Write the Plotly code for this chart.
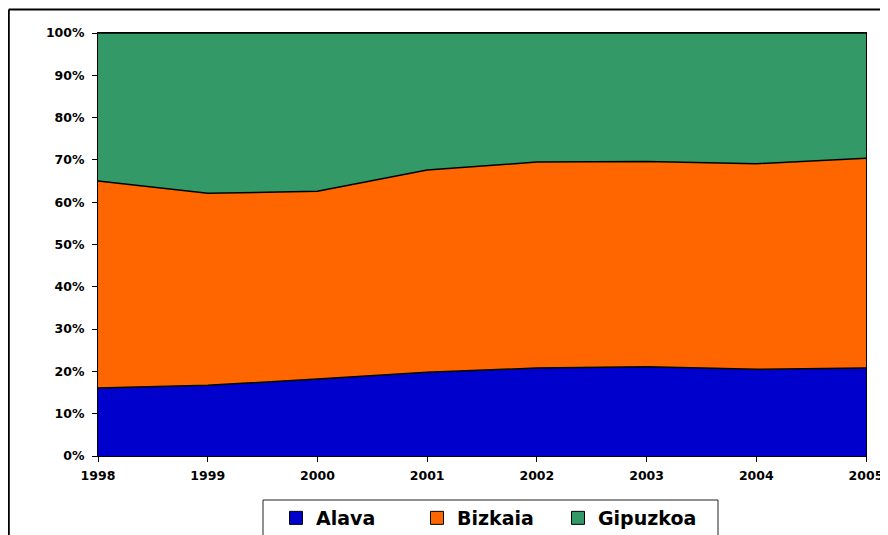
import plotly.graph_objects as go

years = [1998, 1999, 2000, 2001, 2002, 2003, 2004, 2005]
alava = [16.1, 16.7, 18.2, 19.8, 20.8, 21.1, 20.5, 20.8]
bizkaia = [48.9, 45.4, 44.4, 47.8, 48.7, 48.6, 48.6, 49.6]
gipuzkoa = [35.0, 37.9, 37.4, 32.4, 30.5, 30.4, 30.9, 29.6]
series_names = ["Alava", "Bizkaia", "Gipuzkoa"]
colors = ["#0000CC", "#FF6600", "#339966"]

fig = go.Figure()
for name, vals, col in zip(series_names, [alava, bizkaia, gipuzkoa], colors):
    fig.add_trace(go.Scatter(
        x=years, y=vals, name=name, mode="lines", stackgroup="one",
        groupnorm="percent", line=dict(color="black", width=1.5),
        fillcolor=col, showlegend=False, hoverinfo="x+y+name"))
# legend entries
for name, col in zip(series_names, colors):
    fig.add_trace(go.Scatter(
        x=[None], y=[None], name=name, mode="markers",
        marker=dict(symbol="square", size=13, color=col,
                    line=dict(color="black", width=1))))

# figure is placed by the page with an 8px body margin
W, H = 880, 527
L, T = 90, 25
R, B = 22, 79
pw, ph = W - L - R, H - T - B

def px(xf):
    return (xf - L) / pw

def py(yf):
    return 1 - (yf - T) / ph

# outer chart border (partially visible)
fig.add_shape(type="line", xref="paper", yref="paper", x0=px(0.8), x1=px(W + 20),
              y0=py(1.5), y1=py(1.5), line=dict(color="black", width=2))
fig.add_shape(type="line", xref="paper", yref="paper", x0=px(0.8), x1=px(0.8),
              y0=py(1.5), y1=py(H + 20), line=dict(color="black", width=2))
# legend frame
fig.add_shape(type="rect", xref="paper", yref="paper",
              x0=px(255), x1=px(710), y0=py(492), y1=py(H + 20),
              line=dict(color="#222222", width=1), fillcolor="rgba(0,0,0,0)")

tickfont = dict(family="DejaVu Sans", size=12.5, color="black", weight="bold")
fig.update_layout(
    width=W, height=H,
    margin=dict(l=L, r=R, t=T, b=B, autoexpand=False),
    paper_bgcolor="white", plot_bgcolor="white",
    xaxis=dict(range=[1998, 2005], tickmode="array", tickvals=years,
               ticktext=[str(y) for y in years], ticks="outside", ticklen=5,
               tickcolor="black", showline=True, linecolor="black",
               linewidth=1, mirror=True, showgrid=False, zeroline=False,
               tickfont=tickfont, ticklabelstandoff=3),
    yaxis=dict(range=[0, 100], dtick=10, ticksuffix="%", ticks="outside",
               ticklen=5, tickcolor="black", showline=True,
               linecolor="black", linewidth=1, mirror=True, showgrid=False,
               zeroline=False, tickfont=tickfont, ticklabelstandoff=5),
    legend=dict(orientation="h", x=px(268), xanchor="left",
                y=py(491), yanchor="top", traceorder="normal",
                borderwidth=0, bgcolor="rgba(0,0,0,0)",
                font=dict(family="DejaVu Sans", size=19, color="black",
                          weight="bold"),
                entrywidth=96, itemwidth=30),
    showlegend=True,
)
fig.write_html("out.html")
